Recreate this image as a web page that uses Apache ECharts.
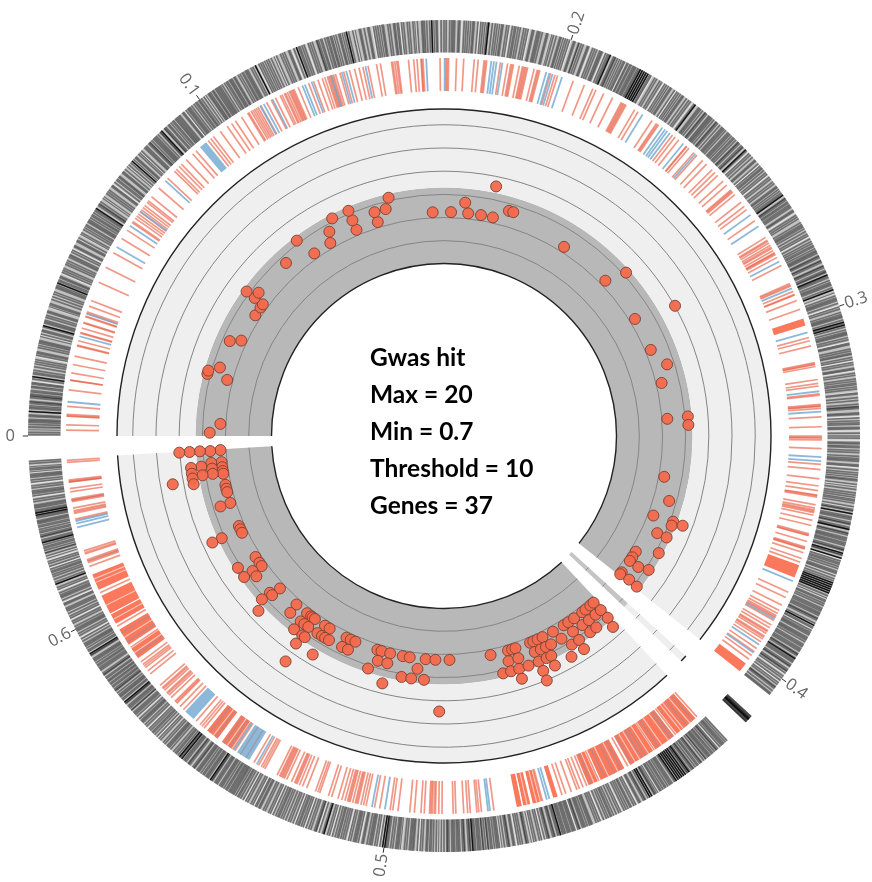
<!DOCTYPE html>
<html>
<head>
<meta charset="utf-8">
<style>html,body{margin:0;padding:0;background:#fff}#chart{width:872px;height:882px}</style>
<script src="https://cdn.jsdelivr.net/npm/echarts@6/dist/echarts.min.js"></script>
</head>
<body>
<div id="chart"></div>
<script>
// angle values are degrees round the ring, clockwise from the "0" tick on the left
var infoLines = ['Gwas hit', 'Max = 20', 'Min = 0.7', 'Threshold = 10', 'Genes = 37']
var tickAngles = [0, 54, 107.8, 161.8, 215.7, 278.3, 332.3]
var tickNames = ['0', '0.1', '0.2', '0.3', '0.4', '0.5', '0.6']

var scoreMin = 0.7, scoreMax = 20
var bandTop = 10.2   // edge of the dark band, sits a touch over the threshold
var gridLevels = [3.55, 6.45, 9.33, 12.23, 15.13, 18.03]
var pieces = [[0, 218.5], [227, 356.6]]
var smallPiece = [222.3, 223.5]

// gwas hits, grouped by the score level they sit on
var hitScores = [7.13, 8.42, 9.71, 11, 12.28, 13.57]
var hitsA = [3.1, 14.5, 25.2, 32.6, 35, 36, 54.6, 59.5, 67, 72.8, 87.1, 91.8, 96.2, 99.5, 102.6, 122.4, 136.1, 148.5, 157.4, 166.3, 175.6, 190.5, 200.8, 211.1, 212.8, 213.9, 217.5, 218.1,
  356.4, 353.3, 352, 351, 350.3, 347.4, 346.4, 345.5, 342.6, 336.3, 335.4, 334.4, 327.3, 325.5, 324.5, 317.1, 311.2, 307.7, 306.4, 305.9, 305.2, 302.1, 300.7, 295.8, 294.6, 293.3, 287.3, 286.2, 283.9, 280.6, 278.8, 274.7, 272.2, 268.6, 258, 253.4, 252.3, 251.4, 247.4, 246.5, 245.3, 243.9, 240.9, 237.7, 236.3, 234.5, 231.9, 230.8, 229.2, 228.1]
var hitsB = [0.8, 17, 23.9, 36.1, 37.7, 47.6, 60.7, 67, 72.75, 75.6, 95.2, 106.1, 107.2, 162.2, 196.1, 204.5, 214, 217.8,
  356.3, 353.4, 352, 350.7, 342.5, 324.8, 323.2, 318, 317.2, 311, 307.7, 306.6, 305.4, 302.7, 301.4, 300.5, 299.4, 295.8, 294.2, 286.4, 284, 276.5, 254, 251.5, 247.2, 245.6, 244.2, 242.8, 239.9, 236.6, 233.8, 231.8, 229.7, 228]
var hitsC = [14.7, 15.5, 36.2, 53, 62.8, 67, 76.9, 138.1, 175.4, 177.4, 200.5, 201.5, 204.5, 208.6, 213.2, 218,
  356.4, 352.8, 350.75, 335.3, 327.4, 324.8, 318.1, 307.8, 305.4, 304.7, 288.1, 280, 277.7, 274.7, 256, 254.1, 252.1, 249.8, 247.2, 245.2, 244, 238.5, 236.5, 233.3, 231.5, 228]
var hitsD = [101.8, 200.6, 356.4, 352.8, 351.5, 350.4, 349.1, 335.3, 316.7, 305.5, 301, 284, 252.2, 247.1, 244.2, 240, 236.7, 228.5]
var hitsE = [150.6, 356.4, 247.2]
var hitsF = [349.9, 305.1, 271]

// gene track
var geneRed = [0.9, 1.7, 3, 3.3, 4.5, 7, 8.5, 9.6, 10.9, 12.2, 13.8, 14.6, 15.8, 16.6, 17.4, 18.4, 19, 20.1, 21, 24, 26.5, 29, 31.5, 33, 34.4, 35.2, 36, 36.8, 37.6, 38.5, 39.3, 41, 43, 44.5, 46, 47, 48.3, 49, 51.4, 51.9, 52.4, 53.7, 55, 55.8, 56.5,
  57.6, 58.7, 59.3, 59.9, 60.5, 61, 62, 62.8, 63.5, 64.3, 65, 65.5, 66, 66.4, 67.3, 69, 69.8, 70.5, 71.2, 72, 72.4, 72.8, 73.3, 74, 74.6, 75.5, 76.3, 77, 77.6, 78.4, 79.7, 80.3, 82, 82.5, 83, 84.6, 85.4, 85.9, 86.5, 86.8, 89.4, 90.3, 90.7, 91.9, 93, 94.6, 95.2, 96.1, 96.5,
  98.6, 99.7, 100.2, 100.6, 101.5, 102, 102.4, 102.8, 103.8, 104.3, 104.7, 106.4, 107.1, 107.5, 110, 111.8, 113.2, 113.7, 115, 116.5, 118, 118.4, 118.8, 120.3, 120.9, 123.4, 124.2, 124.6, 127.2, 127.7, 128.4, 129.9, 130.4, 131.4, 132, 133.2, 134, 135.8, 136.4, 137.6, 138.4, 139.4, 139.8, 140.3, 141.8, 142.6, 143.2, 145.3, 148.3, 148.8, 149.3, 149.7, 150.2, 150.6, 151, 151.3, 151.8, 153.2, 156.2, 156.6, 157.5, 158.1, 159, 160.4,
  164.9, 165.4, 166.2, 168.8, 169.1, 169.4, 171.4, 172, 172.4, 173.6, 173.8, 175.2, 175.5, 175.8, 177.1, 178.6, 180, 180.3, 180.6, 181.9, 184.3, 185.1, 186.5, 187.6, 188.3, 189, 189.3, 190.5, 191, 191.3, 191.7, 192.1, 192.9, 193.7, 195, 195.3, 196.2, 197.1, 197.4, 198, 198.9, 199.5, 204.4, 205.3, 206.6, 207.5, 208, 208.4, 208.8, 209.2, 210, 210.5, 211, 211.5, 212, 212.5, 213, 214.2, 214.8, 215.5, 216.2,
  228, 232.2, 236.2, 240.9, 245.8, 247.8, 248.4, 249, 249.4, 250.3, 251.2, 251.8, 254.9, 255.1, 262.4, 264.3, 265, 266, 266.4, 267, 268.2, 268.6, 270.3, 270.8, 271.3, 271.8, 272.2, 273, 273.5, 274.5, 275.2, 277, 277.8, 278.2, 279.8, 280.6, 281.9, 282.3, 282.7, 283.2, 283.6, 284, 284.4, 284.8, 285.2, 285.7, 286.3, 287.3, 287.8, 289.2, 289.5, 289.9, 291.3, 292, 292.5, 292.9, 293.3, 293.8, 294.6, 295, 295.4, 295.8, 296.2, 298.3, 298.9, 299.4, 300.2, 303.6, 304, 309.4, 310.2, 311, 313.6, 314.3, 315, 315.4, 316.2, 316.7, 317.2, 317.7, 318.2, 318.7, 321, 321.6, 322.2, 322.8, 323.3, 326, 329.8, 335.5, 339.8, 340.4, 340.9, 341.8, 342.3, 347.3, 348.2, 348.6, 349, 350, 350.4, 351.5, 352, 353, 353.3, 356, 356.3]
// second layer, where bars pile up and read darker
var geneRedDense = [3.1, 8.5, 13.9, 15.9, 17.5, 18.5, 19.2, 34.6, 35.6, 36.4, 37.2, 38.2, 44.9, 45.5, 58.9, 59.6, 60.2, 64.6, 65.2, 65.8, 66.2, 66.6, 71.6, 72.2, 72.6, 73, 82.2, 82.8, 86.6, 90.5, 96.3, 100.4, 102.2, 102.6, 104.5, 118.2, 118.6, 124.4, 130, 135.2, 139.6, 149, 150, 151.1, 156.4, 158, 169, 175.4, 180.2, 189.1, 191.5, 195.2, 197.3, 208.6, 211.2, 212.2, 264.7, 271.5, 272, 283.4, 284.6, 293.1, 295.2, 295.6, 298.6, 309.8, 315.2, 317, 318, 322.5, 340.6, 342, 348.4, 350.2, 353.1]
var geneBlue = [5.2, 15.3, 18.9, 30, 33.8, 36.5, 42.5, 60.9, 61.5, 63, 68, 68.4, 69.5, 72.6, 74.3, 75, 78, 87.3, 90.1, 97.2, 97.6, 98, 98.9, 105.7, 106.2, 106.7, 108.2, 121.7, 125.3, 125.8, 126.2, 126.7, 129.3, 131.7, 144.2, 146.3, 152.5, 157, 164.1, 173.2, 176.3, 183.2, 183.8, 202.6, 209, 213.5, 215, 253.8, 254.2, 263, 263.3, 279, 281, 299.7, 303.8, 346, 346.6, 347]
var geneRedBands = [[161.9, 163], [200, 202], [217, 218.5], [228.3, 232], [232.5, 236], [236.4, 240.5], [241.5, 245.5], [246, 247.5], [252.5, 253.2], [255.3, 256.4], [256.8, 257.9], [258.1, 258.9], [304.2, 306], [306.8, 308.8], [324, 325.8], [326.5, 329.2], [330.2, 331.8], [332, 335], [336, 338.5]]
var geneBlueBands = [[49.8, 51], [301, 303.2], [311.5, 313.2]]
// pale and mauve stripes that run across the solid stretches
var genePale = [229.4, 230.7, 231.2, 233.6, 234.8, 237.2, 238.8, 239.6, 242.6, 244.2, 246.6, 255.8, 256.6, 257.3, 258, 305, 307.6, 325, 327.8, 331, 333.4, 337.2, 337.8]
var geneMauve = [228.8, 230, 232.8, 233.2, 235.4, 237.8, 238.4, 240.2, 242, 243.2, 244.8, 247, 301.6, 302.6, 304.6, 305.6, 307.2, 308.3, 324.6, 327, 328.6, 340.7, 347.1, 350.2, 353]

// density track, ticks read round the ring
var ringTicks = [0.2, 0.5, 0.9, 1.1, 1.6, 1.9, 2.3, 2.7, 2.9, 3.4, 3.8, 4, 4.5, 4.8, 5.3, 5.6, 5.8, 6.3, 6.7, 7.2, 7.4, 7.9, 8.2, 8.8, 9.1, 9.6,
  10, 10.3, 10.6, 11.2, 11.5, 11.7, 12.3, 12.6, 13.1, 13.3, 13.9, 14.2, 14.6, 14.8, 15.4, 15.8, 16, 16.6, 16.9, 17.3, 17.5, 18.1, 18.4, 18.6, 19.2, 19.6,
  20, 20.3, 20.9, 21.1, 21.6, 21.9, 22.4, 22.6, 23.2, 23.5, 23.8, 24.4, 24.7, 25, 25.5, 25.7, 26.3, 26.6, 27.1, 27.3, 27.9, 28.1, 28.5, 29, 29.3, 29.8,
  30.1, 30.4, 31, 31.2, 31.7, 32, 32.5, 32.8, 33.2, 33.7, 34, 34.3, 34.9, 35.1, 35.7, 36, 36.3, 36.9, 37.1, 37.6, 38, 38.5, 38.7, 39.3, 39.5, 39.9,
  40.4, 40.7, 41.1, 41.4, 42, 42.2, 42.7, 43, 43.3, 43.9, 44.1, 44.7, 44.9, 45.3, 45.8, 46, 46.5, 46.9, 47.2, 47.8, 48, 48.4, 48.9, 49.2, 49.7, 49.9,
  50.3, 50.5, 51, 51.2, 51.6, 51.9, 52.3, 52.6, 53, 53.3, 53.8, 54, 54.3, 54.7, 55, 55.4, 55.6, 56.1, 56.3, 56.8, 57, 57.4, 57.7, 58.1, 58.4, 58.9, 59.1, 59.6, 59.8,
  60.3, 60.6, 61.1, 61.4, 61.8, 62.3, 62.6, 63, 63.5, 63.8, 64.1, 64.7, 65, 65.4, 65.9, 66.2, 66.8, 67.1, 67.4, 68, 68.2, 68.8, 69.2, 69.5,
  70, 70.3, 70.9, 71.2, 71.5, 72.1, 72.4, 72.7, 73.3, 73.6, 74.1, 74.3, 74.9, 75.3, 75.5, 76.1, 76.4, 76.7, 77.3, 77.6, 78.2, 78.4, 78.9, 79.4, 79.6,
  80.2, 80.5, 80.8, 81.4, 81.6, 82.2, 82.5, 83, 83.2, 83.7, 84.1, 84.4, 84.9, 85.2, 85.7, 86, 86.3, 86.9, 87.1, 87.6, 88, 88.3, 88.9, 89.1, 89.6,
  90, 90.3, 90.8, 91.1, 91.5, 92, 92.2, 92.8, 93.1, 93.4, 94, 94.2, 94.7, 95.1, 95.4, 96, 96.2, 96.7, 97.1, 97.4, 98, 98.2, 98.7, 99, 99.5,
  99.8, 100.3, 100.6, 101.1, 101.4, 101.7, 102.3, 102.5, 103, 103.4, 103.7, 104.3, 104.5, 105, 105.3, 105.7, 106.2, 106.4, 107, 107.3, 107.6, 108.2, 108.4, 108.9, 109.3, 109.6,
  110.2, 110.4, 111, 111.3, 111.6, 112.2, 112.4, 112.9, 113.2, 113.6, 114.1, 114.4, 114.7, 115.3, 115.6, 116.1, 116.3, 116.8, 117.1, 117.5, 117.8, 118.2, 118.5, 118.8, 119.1, 119.4, 119.7,
  120.5, 120.8, 121.3, 121.6, 122.1, 122.4, 123, 123.2, 123.7, 124.1, 124.4, 125, 125.2, 125.7, 126.1, 126.4, 127, 127.2, 127.8, 128, 128.5, 128.9, 129.2, 129.8,
  130, 130.5, 130.9, 131.2, 131.6, 132, 132.4, 132.7, 133.1, 133.5, 133.8, 134.3, 134.6, 135, 135.3, 135.7, 136, 136.5, 136.7, 137.2, 137.5, 137.9, 138.4, 138.6, 139.1, 139.5, 139.8,
  140.3, 140.7, 141, 141.5, 141.8, 142.3, 142.6, 143.1, 143.3, 143.9, 144.2, 144.6, 145.1, 145.4, 145.9, 146.2, 146.6, 147.1, 147.3, 147.9, 148.2, 148.5, 149.1, 149.4, 149.8,
  150.1, 150.5, 150.9, 151.2, 151.7, 152.1, 152.4, 152.7, 153.2, 153.5, 153.9, 154.3, 154.6, 155, 155.3, 155.8, 156.1, 156.5, 156.8, 157.2, 157.6, 158, 158.3, 158.7, 159.1, 159.4, 159.9,
  160.3, 160.6, 161, 161.4, 161.9, 162.2, 162.7, 163, 163.4, 163.8, 164.1, 164.5, 164.8, 165.2, 165.5, 165.9, 166.3, 166.6, 167.1, 167.3, 167.9, 168.2, 168.5, 169.1, 169.4, 169.8,
  170.1, 170.6, 170.8, 171.3, 171.6, 172.1, 172.4, 172.7, 173.2, 173.5, 174, 174.2, 174.7, 175.1, 175.6, 175.9, 176.2, 176.8, 177, 177.5, 177.9, 178.2, 178.8, 179, 179.6,
  180, 180.3, 180.9, 181.1, 181.6, 182, 182.3, 182.8, 183.1, 183.5, 184, 184.2, 184.7, 185.1, 185.4, 186, 186.2, 186.7, 187, 187.4, 187.9, 188.2, 188.5, 189, 189.3, 189.8,
  190.1, 190.4, 190.8, 191.2, 191.6, 192, 192.3, 192.7, 193, 193.5, 193.8, 194.2, 194.6, 194.9, 195.3, 195.7, 196, 196.4, 196.7, 197.1, 197.5, 197.8, 198.3, 198.6, 199, 199.4, 199.7,
  200.1, 200.4, 200.7, 201, 201.3, 201.6, 201.9, 202.2, 202.6, 203, 203.3, 203.8, 204.1, 204.5, 204.9, 205.2, 205.6, 206, 206.3, 206.8, 207.1, 207.4, 207.9, 208.2, 208.6, 209, 209.4, 209.7,
  210.1, 210.5, 210.8, 211.2, 211.6, 211.9, 212.3, 212.6, 213, 213.4, 213.7, 214.2, 214.5, 214.8, 215.3, 215.6, 216, 216.4, 216.7, 217.1, 217.4, 217.8, 218.2, 218.4,
  222.4, 222.6, 222.8, 222.9, 223.1, 223.3, 223.4,
  227.1, 227.4, 227.7, 228.1, 228.4, 228.8, 229.1, 229.4, 229.9, 230.2, 230.6, 230.9, 231.3, 231.7, 232, 232.3, 232.8, 233.1, 233.4, 233.9, 234.2, 234.5, 234.8, 235.1, 235.4, 235.7, 236, 236.3, 236.7, 237.1, 237.4, 237.9, 238.2, 238.5, 239, 239.3, 239.6,
  240, 240.3, 240.6, 241, 241.3, 241.8, 242, 242.5, 242.8, 243.2, 243.7, 244, 244.3, 244.8, 245.1, 245.5, 245.9, 246.2, 246.7, 247, 247.4, 247.9, 248.2, 248.5, 249.1, 249.3, 249.8,
  250.1, 250.5, 250.9, 251.2, 251.6, 252, 252.3, 252.7, 253, 253.4, 253.7, 254.1, 254.5, 254.8, 255.3, 255.6, 256, 256.4, 256.7, 257.2, 257.5, 257.8, 258.3, 258.6, 259.1, 259.4, 259.7,
  260.2, 260.4, 260.9, 261.2, 261.6, 262, 262.3, 262.7, 263, 263.5, 263.8, 264.2, 264.5, 264.9, 265.3, 265.6, 266, 266.3, 266.6, 267.1, 267.4, 267.8, 268.2, 268.5, 268.9, 269.3, 269.6,
  270, 270.4, 270.7, 271.1, 271.5, 271.8, 272.3, 272.5, 273, 273.3, 273.7, 274.2, 274.4, 274.8, 275.2, 275.5, 276, 276.3, 276.7, 277.1, 277.4, 277.8, 278.2, 278.5, 278.9, 279.3, 279.6,
  280, 280.4, 280.7, 281.2, 281.4, 281.9, 282.2, 282.6, 283, 283.3, 283.8, 284.1, 284.4, 284.9, 285.2, 285.6, 286, 286.3, 286.8, 287, 287.5, 287.9, 288.2, 288.7, 289, 289.4, 289.8,
  290.1, 290.6, 290.9, 291.3, 291.7, 292, 292.4, 292.8, 293.1, 293.6, 293.9, 294.3, 294.7, 295, 295.5, 295.8, 296.3, 296.5, 297, 297.4, 297.7, 298.2, 298.5, 298.9, 299.3, 299.6,
  300.1, 300.4, 300.8, 301.2, 301.5, 302, 302.3, 302.7, 303.1, 303.5, 303.9, 304.2, 304.6, 305, 305.3, 305.8, 306.1, 306.5, 306.9, 307.2, 307.7, 308, 308.4, 308.8, 309.1, 309.5, 309.8,
  310.3, 310.6, 311.1, 311.4, 311.8, 312.2, 312.5, 313, 313.3, 313.7, 314.1, 314.4, 314.9, 315.2, 315.7, 316, 316.4, 316.8, 317.1, 317.6, 317.9, 318.3, 318.8, 319.1, 319.5, 319.9,
  320.2, 320.6, 321.1, 321.3, 321.8, 322.2, 322.5, 323, 323.3, 323.8, 324, 324.5, 324.9, 325.2, 325.7, 326.1, 326.4, 326.9, 327.2, 327.6, 328.1, 328.4, 328.8, 329.3, 329.6,
  330, 330.4, 330.8, 331.3, 331.6, 332, 332.4, 332.7, 333.2, 333.5, 334, 334.3, 334.7, 335.1, 335.5, 336, 336.2, 336.7, 337.1, 337.5, 337.8, 338.3, 338.6, 339.1, 339.4, 339.8,
  340.2, 340.5, 341, 341.3, 341.7, 342.1, 342.4, 342.9, 343.2, 343.6, 344, 344.3, 344.8, 345.1, 345.5, 345.9, 346.2, 346.7, 347, 347.5, 347.8, 348.2, 348.6, 349, 349.3, 349.7,
  350.2, 350.4, 350.9, 351.2, 351.7, 352, 352.4, 352.8, 353.1, 353.6, 353.9, 354.3, 354.7, 355, 355.5, 355.8, 356.2, 356.5]
// darker stretches of the density track
var ringGrey = [1.3, 2.1, 4.2, 4.7, 5.5, 6.1, 6.9, 8.6, 12.9, 15.2, 16.2, 21.3, 22.1, 25.9, 30.6, 31.4, 32.2, 33, 33.9, 38.2, 41.7, 44.3, 45, 45.6, 46.2, 47, 47.7, 48.6, 49.4, 50.1, 52.1, 53.5, 55.8, 56.6, 57.2, 58.6, 59.3, 60.9, 61.6, 64.4, 69.7, 72.2, 72.9, 73.8, 74.6, 75.8, 81.1, 83.5, 87.3, 88.6, 91.3, 93.7, 95.7, 97.7, 100, 103.2, 106.7, 109, 112, 113.4, 114.3, 115, 115.8, 116.6, 117.3, 118, 119.9, 122.7, 124.7, 128.2, 129, 129.6, 130.2, 131, 132.2, 133.3, 134.1, 135.1, 135.9, 140, 143.6, 144.4, 145.2, 145.7, 146.4, 149.6, 152.9, 153.7, 154.4, 155.1, 155.9, 156.7, 157.4, 158.5, 160.8, 163.2, 164.3, 165.7, 168.7, 172.9, 176, 178.4, 181.4, 183.3, 185.7, 188.8, 190.3, 191.4, 192.2, 192.9, 193.6, 194.4, 195.1, 195.9, 196.6, 198, 199.2, 203.5, 204.7, 205.4, 206.1, 207.6, 208.4, 209.2, 210.3, 211, 211.7, 212.8, 213.6, 214.4, 217.2,
  222.7, 223, 227.9, 229, 229.7, 230.4, 231, 231.8, 232.5, 233.2, 233.7, 234.1, 236.1, 236.9, 237.7, 238.7, 239.5, 241.1, 243.4, 246.4, 249.5, 250.3, 251, 251.8, 252.5, 253.2, 253.9, 254.6, 255.4, 258.5, 261, 262.5, 263.3, 263.9, 264.6, 265.1, 265.8, 266.4, 267.2, 268, 268.7, 269.5, 272, 274.6, 276.5, 278, 280.2, 282.4, 284.7, 288, 290.4, 293.4, 296.8, 299.8, 300.6, 301, 301.7, 302.5, 303.3, 304, 304.8, 305.5, 306.3, 307, 307.9, 308.6, 309.3, 310.1, 311.6, 314.6, 316.6, 318.1, 318.7, 319.3, 320, 320.8, 321.5, 322.3, 322.8, 323.5, 324.3, 325, 325.9, 326.6, 327.4, 328.2, 329, 329.8, 332.2, 335.3, 337.3, 340.8, 343.7, 344.5, 345.3, 346, 346.5, 347.3, 348, 348.8, 349.5, 350, 352.2, 354.5, 355.3]
// pale streaks where no feature falls
var ringWhite = [1, 7.6, 11, 14, 18, 23, 26.8, 28.9, 35, 37.3, 40.5, 43.1, 51.4, 54.9, 63.3, 66, 68.5, 70.6, 77.5, 80, 83.9, 86.1, 89.3, 92.5, 94.9, 99.2, 101.9, 104.9, 107.8, 110.7, 112.7, 116, 120.1, 121.9, 123.9, 126.7, 137, 139.3, 141.2, 147.6, 151.4, 160, 161.7, 166.9, 169.6, 171, 173.9, 177.3, 179.3, 180.6, 184.4, 186.9, 190, 197.3, 199.5, 203.1, 207.7, 215, 216.2, 228.6, 235.9, 238.9, 242.3, 244.6, 247.7, 251.4, 256.2, 257.7, 259.9, 262.1, 270.6, 273.5, 275.9, 279.1, 281.7, 283.5, 285.8, 287.7, 289.6, 291.1, 294.5, 297.2, 298.7, 313.5, 315.4, 317.4, 331, 333.8, 336.4, 338.1, 341.5, 342.6, 343, 351.5, 353.4, 354.9, 355.9]
var ringBlack = [3.4, 8.2, 15.4, 21.6, 33.2, 41.4, 47.2, 63, 69.2, 76.4, 88.3, 96.2, 113.6, 118.2, 118.5, 118.8, 119.1, 119.4, 127.2, 136.5, 144.6, 157.2, 159.4, 164.1, 164.5, 190.8, 193, 196.4, 197.1, 200.7, 201, 201.3, 201.6, 201.9, 202.2, 207.1, 212.4, 222.9, 233.9, 234.5, 234.8, 235.1, 235.4, 235.7, 236, 240, 240.3, 253.7, 266, 278.2, 278.5, 286.8, 304.2, 309.1, 309.5, 320.2, 328.4, 339.1, 345.1, 349, 349.3]

var chart = echarts.init(document.getElementById('chart'))

function toPolarItems(list) {
  return list.map(function (a) { return [0, a] })
}
function canvasAngle(p, cx, cy) {
  var a = Math.atan2(p[1] - cy, p[0] - cx)
  return a < 0 ? a + Math.PI * 2 : a
}
// sector between two angles and two radius values, through the polar scales
function sectorShape(params, api, r0, r1, a0, a1) {
  var cs = params.coordSys
  var p0 = api.coord([r0, a0]), p1 = api.coord([r1, a1])
  var start = canvasAngle(p0, cs.cx, cs.cy)
  var end = canvasAngle(p1, cs.cx, cs.cy)
  if (end <= start) end += Math.PI * 2
  return {
    cx: cs.cx, cy: cs.cy,
    r0: Math.hypot(p0[0] - cs.cx, p0[1] - cs.cy),
    r: Math.hypot(p1[0] - cs.cx, p1[1] - cs.cy),
    startAngle: start, endAngle: end, clockwise: true
  }
}
function arcShape(params, api, level, a0, a1) {
  var s = sectorShape(params, api, level, level, a0, a1)
  return { cx: s.cx, cy: s.cy, r: s.r, startAngle: s.startAngle, endAngle: s.endAngle, clockwise: true }
}

// background bands of the hit track
function bandSeries(list, low, high, color, opacity) {
  return {
    type: 'custom', coordinateSystem: 'polar', polarIndex: 0, silent: true, z: 1,
    data: list,
    renderItem: function (params, api) {
      return { type: 'sector', shape: sectorShape(params, api, low, high, api.value(0), api.value(1)), style: { fill: color, opacity: opacity } }
    },
    encode: { radius: 0, angle: 1 }
  }
}
function arcSeries(list, levels, color, width, opacity) {
  var items = []
  list.forEach(function (p) { levels.forEach(function (l) { items.push([l, p[0], p[1]]) }) })
  return {
    type: 'custom', coordinateSystem: 'polar', polarIndex: 0, silent: true, z: 2,
    data: items,
    encode: { radius: 0, angle: 1 },
    renderItem: function (params, api) {
      return { type: 'arc', shape: arcShape(params, api, api.value(0), api.value(1), api.value(2)), style: { stroke: color, lineWidth: width, fill: null, opacity: opacity } }
    }
  }
}
// radial ticks on a track: scale of those polars runs 0 to 1
function tickSeries(idx, list, color, width, opacity) {
  return {
    type: 'custom', coordinateSystem: 'polar', polarIndex: idx, silent: true, z: 3,
    data: toPolarItems(list),
    encode: { radius: 0, angle: 1 },
    renderItem: function (params, api) {
      var a = api.value(1)
      var p0 = api.coord([0, a]), p1 = api.coord([1, a])
      return { type: 'line', shape: { x1: p0[0], y1: p0[1], x2: p1[0], y2: p1[1] }, style: { stroke: color, lineWidth: width, opacity: opacity } }
    }
  }
}
function wideSeries(idx, list, color, opacity) {
  return {
    type: 'custom', coordinateSystem: 'polar', polarIndex: idx, silent: true, z: 3,
    data: list.map(function (b) { return [0, b[0], b[1]] }),
    encode: { radius: 0, angle: 1 },
    renderItem: function (params, api) {
      return { type: 'sector', shape: sectorShape(params, api, 0, 1, api.value(1), api.value(2)), style: { fill: color, opacity: opacity } }
    }
  }
}
function hitSeries() {
  var data = []
  var groups = [hitsA, hitsB, hitsC, hitsD, hitsE, hitsF]
  groups.forEach(function (g, i) {
    g.forEach(function (a) { data.push([hitScores[i], a]) })
  })
  return {
    type: 'scatter', coordinateSystem: 'polar', polarIndex: 0, z: 5, silent: true,
    symbolSize: 11,
    itemStyle: { color: '#f4694c', borderColor: '#7d4436', borderWidth: 1, opacity: 0.95 },
    data: data
  }
}

var axisTicks = {
  type: 'custom', coordinateSystem: 'polar', polarIndex: 1, silent: true, z: 6,
  data: tickAngles.map(function (a, i) { return [0, a, i] }),
  encode: { radius: 0, angle: 1 },
  renderItem: function (params, api) {
    var cs = params.coordSys
    var a = api.value(1)
    var name = tickNames[api.value(2)]
    var p0 = api.coord([1, a]), p1 = api.coord([1.16, a]), pt = api.coord([1.55, a])
    var out = Math.atan2(cs.cy - pt[1], pt[0] - cs.cx)
    // left half reads towards the centre, right half away from it
    var rot = Math.cos(out) < 0 ? out + Math.PI : out
    return {
      type: 'group',
      children: [
        { type: 'line', shape: { x1: p0[0], y1: p0[1], x2: p1[0], y2: p1[1] }, style: { stroke: '#333', lineWidth: 1 } },
        { type: 'text', x: pt[0], y: pt[1], rotation: rot,
          style: { text: name, font: '16.5px "Open Sans"', fill: '#666', align: 'center', verticalAlign: 'middle' } }
      ]
    }
  }
}

var hiddenAngle = { type: 'value', min: 0, max: 360, startAngle: 180, clockwise: true, show: false }

chart.setOption({
  animation: false,
  backgroundColor: '#fff',
  polar: [
    { center: [444, 436], radius: [172.5, 327] },
    { center: [444, 436], radius: [383.5, 416] },
    { center: [444, 436], radius: [345, 378] }
  ],
  angleAxis: [
    Object.assign({ polarIndex: 0 }, hiddenAngle),
    Object.assign({ polarIndex: 1 }, hiddenAngle),
    Object.assign({ polarIndex: 2 }, hiddenAngle)
  ],
  radiusAxis: [
    { polarIndex: 0, type: 'value', min: scoreMin, max: scoreMax, show: false },
    { polarIndex: 1, type: 'value', min: 0, max: 1, show: false },
    { polarIndex: 2, type: 'value', min: 0, max: 1, show: false }
  ],
  graphic: infoLines.map(function (t, i) {
    return { type: 'text', left: 370, top: 346 + i * 37, z: 10,
      style: { text: t, font: 'bold 24.5px Lato', fill: '#000' } }
  }),
  series: [
    bandSeries(pieces, scoreMin, bandTop, '#b8b8b8', 1),
    bandSeries(pieces, bandTop, scoreMax, '#efefef', 1),
    bandSeries([smallPiece], scoreMin, bandTop, '#c4c4c4', 1),
    bandSeries([smallPiece], bandTop, scoreMax, '#eeeeee', 1),
    arcSeries(pieces, gridLevels, '#858585', 1, 1),
    arcSeries(pieces, [scoreMin, scoreMax], '#222', 1.4, 1),
    arcSeries([smallPiece], gridLevels, '#8c8c8c', 1, 1),
    arcSeries([smallPiece], [scoreMax], '#222', 1.4, 1),
    wideSeries(1, pieces, '#c2c2c2', 1),
    wideSeries(1, [smallPiece], '#8a8a8a', 1),
    tickSeries(1, ringTicks, '#000', 1.7, 0.42),
    tickSeries(1, ringGrey, '#000', 1.3, 0.45),
    tickSeries(1, ringWhite, '#fff', 0.9, 0.7),
    tickSeries(1, ringBlack, '#000', 1.3, 0.85),
    wideSeries(2, geneRedBands, '#f9694a', 0.9),
    wideSeries(2, geneBlueBands, '#6fa8cf', 0.8),
    tickSeries(2, genePale, '#fff', 1.2, 0.55),
    tickSeries(2, geneMauve, '#a88a96', 1.3, 0.7),
    tickSeries(2, geneRed, '#ea5f45', 1.7, 0.65),
    tickSeries(2, geneRedDense, '#e85a40', 1.7, 0.6),
    tickSeries(2, geneBlue, '#6fa8cf', 1.8, 0.8),
    hitSeries(),
    axisTicks
  ]
})
</script>
</body>
</html>
